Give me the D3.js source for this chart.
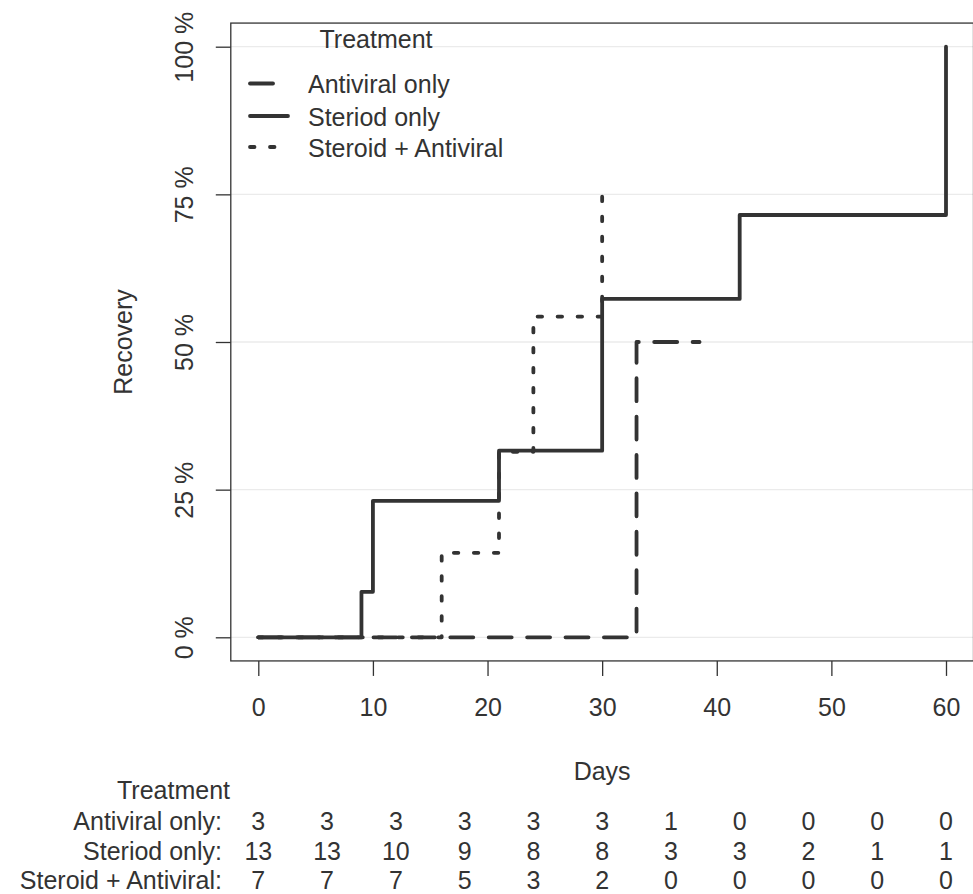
<!DOCTYPE html>
<html>
<head>
<meta charset="utf-8">
<script src="https://cdn.jsdelivr.net/npm/d3@7"></script>
<style>
  body { margin: 0; background: #fff; }
  svg text { font-family: "Liberation Sans", Arial, sans-serif; fill: #333; }
</style>
</head>
<body>
<svg id="chart" width="973" height="894"></svg>
<script>
// recovery curves (days, cumulative recovery)
const antiviralDays = [0, 33, 38.5];
const antiviralRecovery = [0, 0.5, 0.5];
const steroidDays = [0, 9, 10, 21, 30, 42, 60];
const steroidRecovery = [0, 0.077, 0.231, 0.316, 0.573, 0.715, 1];
const comboDays = [0, 16, 21, 24, 30];
const comboRecovery = [0, 0.143, 0.314, 0.543, 0.771];

// number at risk table
const riskDays = [0, 6, 12, 18, 24, 30, 36, 42, 48, 54, 60];
const riskAntiviral = [3, 3, 3, 3, 3, 3, 1, 0, 0, 0, 0];
const riskSteroid = [13, 13, 10, 9, 8, 8, 3, 3, 2, 1, 1];
const riskCombo = [7, 7, 7, 5, 3, 2, 0, 0, 0, 0, 0];

const groupNames = ["Antiviral only", "Steriod only", "Steroid + Antiviral"];
const xTicks = [0, 10, 20, 30, 40, 50, 60];
const yTicks = [0, 0.25, 0.5, 0.75, 1];

const ink = "#333";
const lineW = 3.8;
const dashes = ["23,15.4", null, "4.5,15.5"];

const svg = d3.select("#chart");

const x = d3.scaleLinear().domain([0, 60]).range([258.3, 946]);
const y = d3.scaleLinear().domain([0, 1]).range([637.3, 46.7]);

// padded plot region (R style 4%)
const x0 = x(-2.4), x1 = x(62.4), yTop = y(1.04), yBot = y(-0.04);

// grid
svg.append("g")
  .selectAll("line")
  .data(yTicks)
  .join("line")
  .attr("x1", x0).attr("x2", x1)
  .attr("y1", d => y(d)).attr("y2", d => y(d))
  .attr("stroke", "#ebebeb")
  .attr("stroke-width", 1.3);

// curves
const series = [
  { days: antiviralDays, rec: antiviralRecovery },
  { days: steroidDays, rec: steroidRecovery },
  { days: comboDays, rec: comboRecovery }
];

const line = d3.line()
  .x(d => x(d[0]))
  .y(d => y(d[1]))
  .curve(d3.curveStepAfter);

series.forEach((s, i) => {
  const pts = s.days.map((d, j) => [d, s.rec[j]]);
  svg.append("path")
    .attr("d", line(pts))
    .attr("fill", "none")
    .attr("stroke", ink)
    .attr("stroke-width", lineW)
    .attr("stroke-linecap", "round")
    .attr("stroke-linejoin", "round")
    .attr("stroke-dasharray", dashes[i]);
});

// box
svg.append("rect")
  .attr("x", x0).attr("y", yTop)
  .attr("width", x1 - x0).attr("height", yBot - yTop)
  .attr("fill", "none")
  .attr("stroke", ink)
  .attr("stroke-width", 1.3);

// x axis
const xAxis = svg.append("g")
  .attr("transform", `translate(0,${yBot})`)
  .call(d3.axisBottom(x).tickValues(xTicks).tickSize(15).tickPadding(22));
xAxis.select(".domain").remove();
xAxis.selectAll("line").attr("stroke", ink).attr("stroke-width", 1.3);
xAxis.selectAll("text").attr("font-size", 25).attr("fill", ink)
  .style("font-family", '"Liberation Sans", Arial, sans-serif');

// y axis
const yAxis = svg.append("g")
  .attr("transform", `translate(${x0},0)`)
  .call(d3.axisLeft(y).tickValues(yTicks).tickSize(15)
    .tickFormat(d => `${Math.round(d * 100)} %`));
yAxis.select(".domain").remove();
yAxis.selectAll("line").attr("stroke", ink).attr("stroke-width", 1.3);
yAxis.selectAll("text")
  .attr("x", null).attr("dy", null)
  .attr("text-anchor", "middle")
  .attr("transform", "translate(-38,0) rotate(-90)")
  .attr("font-size", 25).attr("fill", ink)
  .style("font-family", '"Liberation Sans", Arial, sans-serif');

// axis titles
svg.append("text")
  .attr("transform", `translate(132,${(yTop + yBot) / 2}) rotate(-90)`)
  .attr("text-anchor", "middle")
  .attr("font-size", 25)
  .text("Recovery");

svg.append("text")
  .attr("x", (x0 + x1) / 2).attr("y", 780)
  .attr("text-anchor", "middle")
  .attr("font-size", 25)
  .text("Days");

// legend
const legend = svg.append("g");
legend.append("text")
  .attr("x", 376).attr("y", 48)
  .attr("text-anchor", "middle")
  .attr("font-size", 25)
  .text("Treatment");

const legendRows = [83.5, 116, 147];
groupNames.forEach((name, i) => {
  legend.append("line")
    .attr("x1", 250).attr("x2", 288)
    .attr("y1", legendRows[i]).attr("y2", legendRows[i])
    .attr("stroke", ink)
    .attr("stroke-width", lineW)
    .attr("stroke-linecap", "round")
    .attr("stroke-dasharray", dashes[i]);
  legend.append("text")
    .attr("x", 308).attr("y", legendRows[i] + 9.5)
    .attr("font-size", 25)
    .text(name);
});

// risk table
const table = svg.append("g");
table.append("text")
  .attr("x", 230).attr("y", 799)
  .attr("text-anchor", "end")
  .attr("font-size", 25)
  .text("Treatment");

const riskRows = [riskAntiviral, riskSteroid, riskCombo];
const rowY = [830, 860, 889];
riskRows.forEach((row, i) => {
  table.append("text")
    .attr("x", 222).attr("y", rowY[i])
    .attr("text-anchor", "end")
    .attr("font-size", 25)
    .text(groupNames[i] + ":");
  table.selectAll(null)
    .data(row)
    .join("text")
    .attr("x", (d, j) => x(riskDays[j]))
    .attr("y", rowY[i])
    .attr("text-anchor", "middle")
    .attr("font-size", 25)
    .text(d => d);
});
</script>
</body>
</html>
